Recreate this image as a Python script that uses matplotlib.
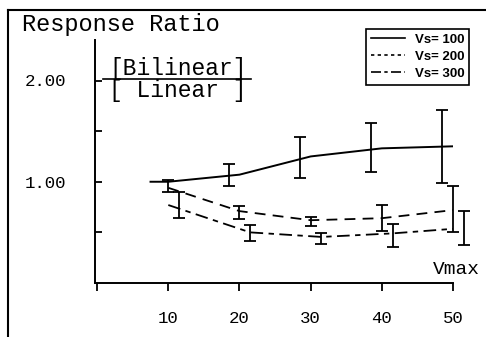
import matplotlib.pyplot as plt
from matplotlib.lines import Line2D

# Vs = 100 (solid)
vs100_line_x = [7.5, 10, 20, 30, 40, 50]
vs100_line_y = [1.00, 1.00, 1.07, 1.25, 1.33, 1.35]
vs100_bar_x = [18.5, 28.5, 38.5, 48.5]
vs100_mean = [1.07, 1.24, 1.34, 1.35]
vs100_err = [0.11, 0.20, 0.245, 0.36]

# Vs = 200
vs200_line_x = [10, 20, 30, 40, 50]
vs200_line_y = [0.94, 0.71, 0.62, 0.64, 0.72]
vs200_bar_x = [10, 20, 30, 40, 50]
vs200_mean = [0.96, 0.70, 0.61, 0.64, 0.73]
vs200_err = [0.06, 0.065, 0.045, 0.13, 0.23]

# Vs = 300
vs300_line_x = [10, 21.5, 31.5, 41.5, 50]
vs300_line_y = [0.77, 0.50, 0.455, 0.49, 0.535]
vs300_bar_x = [11.5, 21.5, 31.5, 41.5, 51.5]
vs300_mean = [0.77, 0.495, 0.44, 0.47, 0.545]
vs300_err = [0.13, 0.08, 0.055, 0.115, 0.17]

x_ticks = [0, 10, 20, 30, 40, 50]
x_labels = ['', '10', '20', '30', '40', '50']
y_ticks = [0.5, 1.0, 1.5, 2.0]
y_labels = ['', '1.00', '', '2.00']

W, H = 486, 337
mono = 'Liberation Mono'

fig = plt.figure(figsize=(W / 100, H / 100), dpi=100)
ax = fig.add_axes([95 / W, 54 / H, 358 / W, 243 / H])

ax.plot(vs100_line_x, vs100_line_y, color='black', lw=1.4, ls='-')
ax.plot(vs200_line_x, vs200_line_y, color='black', lw=1.3, ls=(0, (6, 4)))
ax.plot(vs300_line_x, vs300_line_y, color='black', lw=1.3, ls=(0, (7, 3, 3, 3)))

for bx, m, e in [(vs100_bar_x, vs100_mean, vs100_err),
                 (vs200_bar_x, vs200_mean, vs200_err),
                 (vs300_bar_x, vs300_mean, vs300_err)]:
    eb = ax.errorbar(bx, m, yerr=e, fmt='none', ecolor='black',
                     elinewidth=1.3, capsize=4.5, capthick=1.3)
    for art in eb.lines[1] + eb.lines[2]:
        art.set_clip_on(False)

ax.set_xlim(-0.3, 50)
ax.set_ylim(0, 2.4)
ax.spines['top'].set_visible(False)
ax.spines['right'].set_visible(False)
ax.spines['left'].set_linewidth(1.4)
ax.spines['bottom'].set_linewidth(1.4)

ax.set_xticks(x_ticks)
ax.set_xticklabels(x_labels, fontfamily=mono, fontsize=12.5)
ax.tick_params(axis='x', direction='out', length=6, width=1.3, pad=14)
ax.set_yticks(y_ticks)
ax.set_yticklabels(y_labels, fontfamily=mono, fontsize=12.5)
ax.tick_params(axis='y', direction='in', length=5, width=1.3, pad=21)

fig.text(480 / W, 1 - 270 / H, 'Vmax', ha='right', va='center',
         fontfamily=mono, fontsize=14)
fig.text(22 / W, 1 - 25 / H, 'Response Ratio', ha='left', va='center',
         fontfamily=mono, fontsize=17)
fig.text(178 / W, 1 - 68 / H, '[Bilinear]', ha='center', va='center',
         fontfamily=mono, fontsize=16.5)
fig.text(178 / W, 1 - 91 / H, '[ Linear ]', ha='center', va='center',
         fontfamily=mono, fontsize=16.5)
fig.add_artist(Line2D([103 / W, 251 / W], [1 - 79 / H, 1 - 79 / H],
                      color='black', lw=1.2))

# scanned page border (left and top)
fig.add_artist(Line2D([8 / W, 8 / W], [0, 1 - 10 / H], color='black', lw=1.5))
fig.add_artist(Line2D([8 / W, 1], [1 - 10 / H, 1 - 10 / H], color='black', lw=1.5))

handles = [Line2D([], [], color='black', lw=1.2, ls='-'),
           Line2D([], [], color='black', lw=1.2, ls=(0, (2, 2))),
           Line2D([], [], color='black', lw=1.2, ls=(0, (6, 2, 2, 2)))]
leg = fig.legend(handles, ['Vs= 100', 'Vs= 200', 'Vs= 300'],
                 loc='upper right', bbox_to_anchor=(476 / W, 1 - 22 / H),
                 prop={'family': 'Liberation Sans', 'size': 9.5, 'weight': 'bold'},
                 handlelength=2.6, handletextpad=0.7, labelspacing=0.35,
                 borderpad=0.4, fancybox=False, framealpha=1)
leg.get_frame().set_edgecolor('black')
leg.get_frame().set_linewidth(1.2)

fig.savefig('out.png', dpi=100)
